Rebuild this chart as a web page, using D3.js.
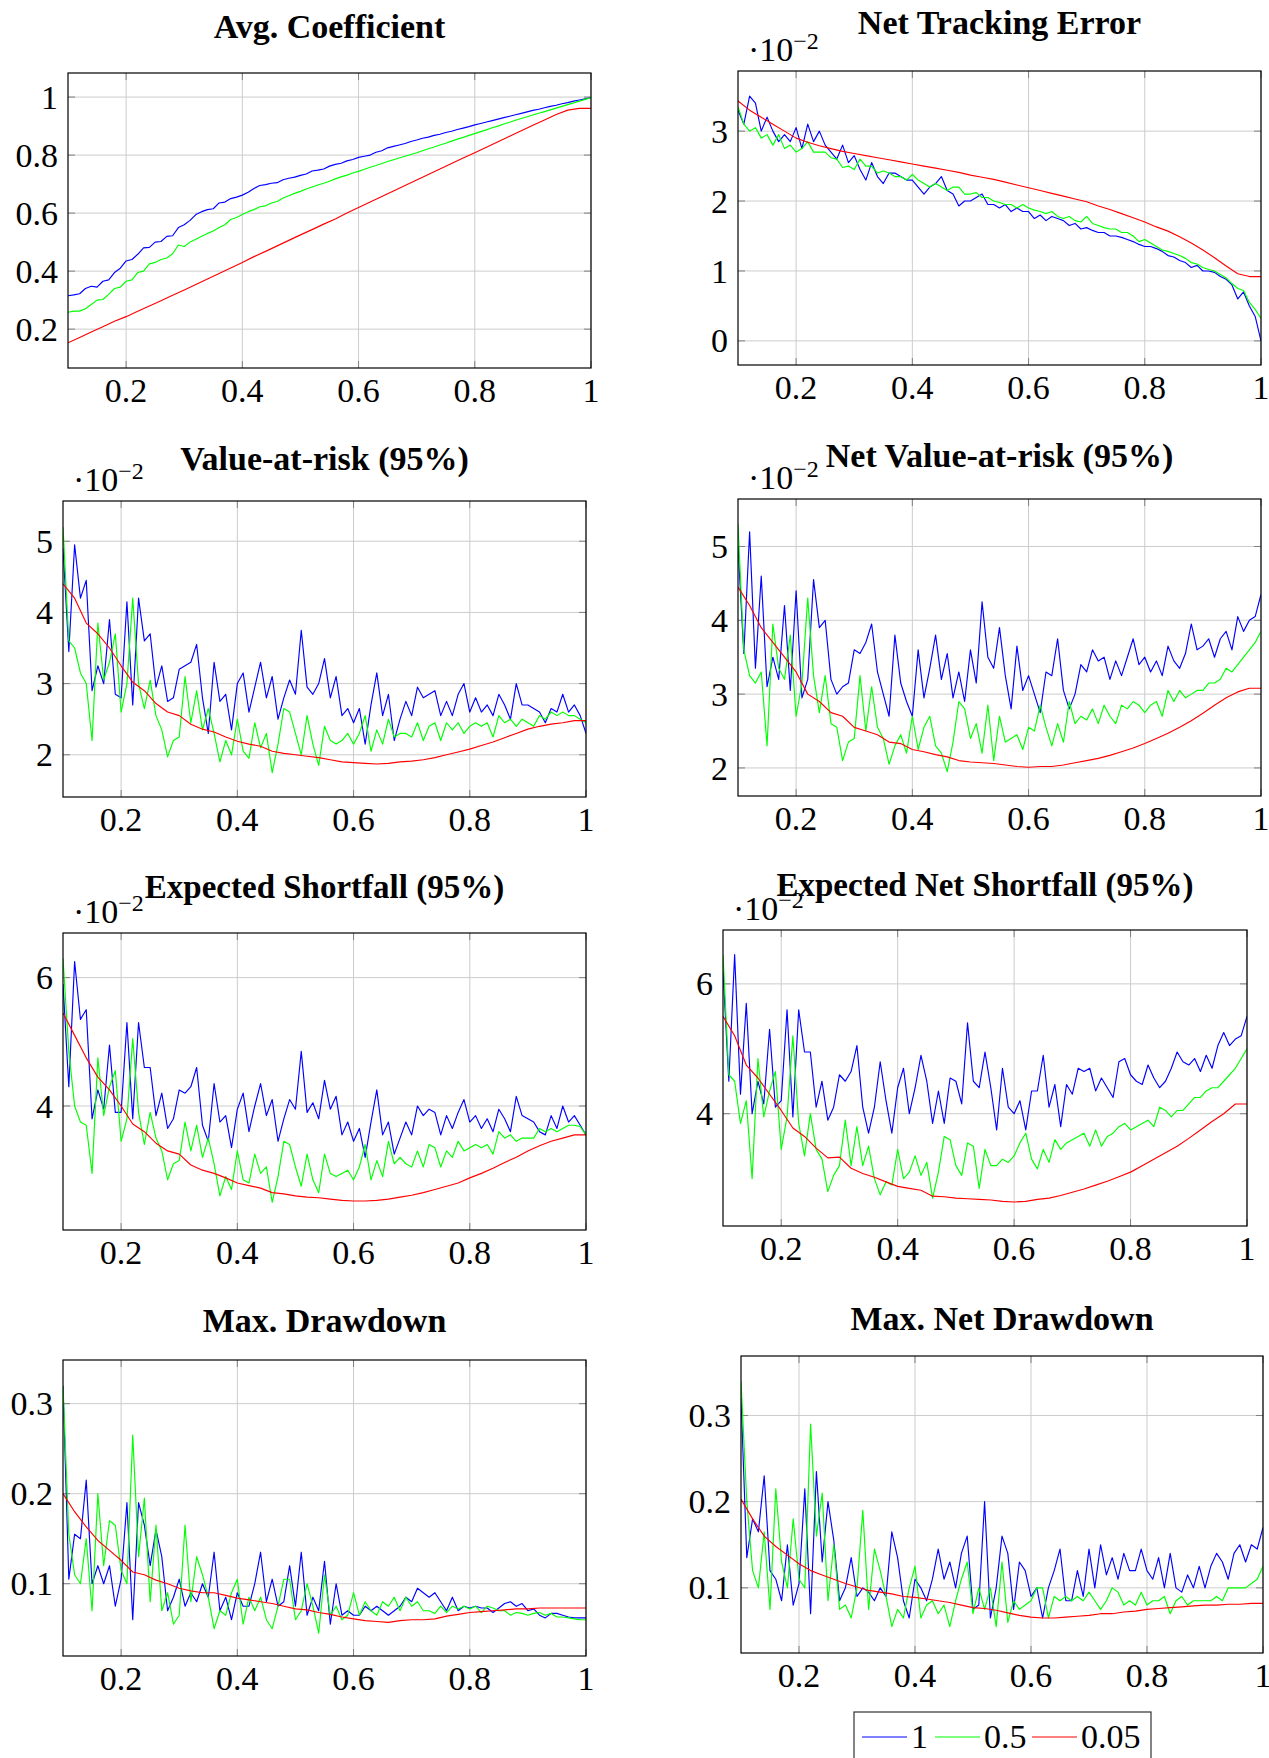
<!DOCTYPE html>
<html>
<head>
<meta charset="utf-8">
<script src="https://cdn.jsdelivr.net/npm/d3@7"></script>
<style>
  body { margin: 0; background: #fff; }
  .tick-label { font-family: "Liberation Serif", serif; font-size: 34px; fill: #000; }
  .title { font-family: "Liberation Serif", serif; font-weight: bold; fill: #000; }
</style>
</head>
<body>
<script>
// x sampling of the simulations (noisy series every 0.01, smooth ones every 0.02)
var xs = d3.range(10, 101).map(function(i) { return i / 100; });
var xsCoarse = d3.range(5, 51).map(function(i) { return i / 50; });

var xTicks = [0.2, 0.4, 0.6, 0.8, 1];
var legendLabels = ["1", "0.5", "0.05"];
var colors = ["#0000ff", "#00ff00", "#ff0000"];

// Avg. Coefficient
var avgCoefBlue = [0.315,0.318,0.322,0.34,0.348,0.345,0.365,0.37,0.395,0.41,
  0.435,0.44,0.458,0.48,0.482,0.5,0.502,0.52,0.522,0.55,
  0.56,0.575,0.595,0.605,0.612,0.615,0.635,0.638,0.65,0.655,
  0.662,0.672,0.685,0.695,0.698,0.703,0.705,0.715,0.72,0.724,
  0.73,0.735,0.745,0.748,0.752,0.762,0.768,0.772,0.78,0.785,
  0.792,0.796,0.8,0.81,0.815,0.825,0.83,0.835,0.84,0.847,
  0.852,0.858,0.862,0.868,0.872,0.878,0.882,0.888,0.893,0.898,
  0.904,0.909,0.914,0.919,0.924,0.929,0.934,0.939,0.944,0.949,
  0.954,0.958,0.963,0.968,0.972,0.977,0.981,0.986,0.99,0.994,
  0.998];
var avgCoefGreen = [0.258,0.262,0.262,0.27,0.285,0.3,0.302,0.32,0.34,0.345,
  0.365,0.37,0.395,0.4,0.425,0.43,0.44,0.445,0.46,0.49,
  0.485,0.5,0.51,0.52,0.53,0.538,0.55,0.56,0.578,0.585,
  0.595,0.605,0.612,0.622,0.625,0.635,0.64,0.652,0.66,0.668,
  0.675,0.683,0.69,0.697,0.703,0.71,0.718,0.725,0.731,0.738,
  0.744,0.751,0.758,0.764,0.771,0.778,0.784,0.79,0.796,0.802,
  0.808,0.815,0.822,0.828,0.835,0.841,0.848,0.855,0.861,0.868,
  0.874,0.881,0.887,0.894,0.9,0.907,0.913,0.92,0.926,0.932,
  0.938,0.944,0.95,0.956,0.962,0.968,0.974,0.98,0.986,0.992,
  0.998];
var avgCoefRed = [0.153,0.171,0.19,0.208,0.227,0.243,0.262,0.28,0.298,0.317,
  0.335,0.354,0.373,0.392,0.411,0.43,0.45,0.468,0.487,0.506,
  0.525,0.543,0.562,0.58,0.6,0.619,0.638,0.657,0.676,0.695,
  0.714,0.733,0.752,0.771,0.79,0.808,0.827,0.846,0.865,0.884,
  0.903,0.921,0.94,0.955,0.961,0.961];

// Net Tracking Error (x 10^-2)
var nteBlue = [3.3,3.1,3.5,3.4,3.0,3.2,3.0,2.85,2.95,2.85,
  3.05,2.75,3.1,2.85,3.0,2.8,2.7,2.6,2.8,2.55,
  2.65,2.45,2.3,2.55,2.35,2.25,2.4,2.4,2.35,2.3,
  2.3,2.2,2.1,2.2,2.25,2.35,2.15,2.1,1.93,2.0,
  2.0,2.05,2.1,1.95,1.95,1.9,1.95,1.85,1.9,1.85,
  1.85,1.75,1.8,1.72,1.78,1.75,1.72,1.65,1.68,1.6,
  1.62,1.58,1.55,1.55,1.5,1.5,1.48,1.45,1.42,1.38,
  1.35,1.35,1.32,1.28,1.22,1.2,1.15,1.12,1.05,1.08,
  1.0,1.0,0.98,0.92,0.88,0.8,0.6,0.7,0.5,0.35,
  0.0];
var nteGreen = [3.35,3.1,3.0,3.05,2.9,2.95,2.8,2.95,2.75,2.8,
  2.7,2.75,2.85,2.7,2.7,2.7,2.62,2.6,2.48,2.5,
  2.45,2.6,2.5,2.5,2.4,2.43,2.4,2.35,2.35,2.3,
  2.38,2.3,2.25,2.2,2.25,2.2,2.15,2.2,2.2,2.1,
  2.1,2.12,2.05,2.05,2.0,1.98,1.95,1.95,1.9,1.95,
  1.9,1.87,1.85,1.82,1.85,1.78,1.75,1.78,1.72,1.7,
  1.78,1.68,1.65,1.62,1.6,1.6,1.55,1.55,1.5,1.42,
  1.45,1.4,1.35,1.3,1.28,1.25,1.22,1.18,1.12,1.1,
  1.05,1.02,1.0,0.95,0.9,0.82,0.75,0.72,0.55,0.45,
  0.32];
var nteRed = [3.43,3.3,3.2,3.1,3.0,2.9,2.84,2.79,2.75,2.71,
  2.68,2.65,2.62,2.59,2.56,2.53,2.5,2.47,2.44,2.41,
  2.37,2.34,2.31,2.27,2.23,2.19,2.15,2.11,2.07,2.03,
  1.99,1.93,1.88,1.82,1.76,1.70,1.63,1.57,1.49,1.40,
  1.30,1.19,1.07,0.96,0.92,0.92];

// Value-at-risk (95%) (x 10^-2)
var varBlue = [4.9,3.45,4.95,4.2,4.45,2.9,3.25,3.0,3.9,2.85,
  2.8,4.15,2.7,4.2,3.6,3.7,2.95,3.25,2.75,2.8,
  3.2,3.25,3.3,3.55,2.8,2.3,3.3,2.75,2.85,2.35,
  3.0,3.15,2.6,2.95,3.3,2.8,3.1,2.5,2.8,3.05,
  2.85,3.75,2.95,2.85,3.0,3.35,2.8,3.1,2.55,2.65,
  2.45,2.65,2.15,2.7,3.15,2.55,2.85,2.2,2.5,2.75,
  2.55,2.95,2.8,2.85,2.9,2.55,2.75,2.55,2.85,3.0,
  2.6,2.8,2.6,2.7,2.55,2.85,2.7,2.5,3.0,2.7,
  2.7,2.65,2.6,2.45,2.65,2.6,2.85,2.6,2.7,2.55,
  2.3];
var varGreen = [5.2,3.6,3.5,3.15,3.0,2.2,3.85,3.05,3.3,3.7,
  2.6,3.0,4.2,3.0,2.65,3.05,2.55,2.35,1.97,2.2,
  2.25,3.1,2.45,2.9,2.35,2.65,2.3,1.9,2.2,2.0,
  2.5,2.05,1.95,2.45,2.1,2.3,1.75,2.15,2.65,2.6,
  2.3,2.0,2.55,2.15,1.85,2.4,2.2,2.15,2.2,2.3,
  2.15,2.3,2.55,2.05,2.35,2.15,2.5,2.25,2.3,2.3,
  2.25,2.45,2.2,2.4,2.45,2.2,2.45,2.35,2.45,2.3,
  2.4,2.45,2.4,2.45,2.25,2.55,2.45,2.5,2.4,2.5,
  2.45,2.4,2.55,2.5,2.6,2.55,2.6,2.55,2.55,2.5,
  2.45];
var varRed = [4.4,4.2,3.85,3.7,3.5,3.25,3.02,2.9,2.72,2.6,
  2.55,2.43,2.36,2.32,2.25,2.19,2.15,2.12,2.05,2.02,
  2.0,1.98,1.96,1.93,1.9,1.89,1.88,1.87,1.88,1.9,
  1.91,1.93,1.96,2.0,2.04,2.08,2.13,2.18,2.24,2.3,
  2.36,2.4,2.43,2.45,2.48,2.48];

// Net Value-at-risk (95%) (x 10^-2)
var nvarBlue = [5.0,3.55,5.2,3.35,4.6,3.1,3.5,3.2,4.2,3.05,
  4.4,2.95,3.2,4.55,3.9,4.0,3.2,3.0,3.1,3.15,
  3.6,3.55,3.7,3.95,3.3,3.0,2.7,3.8,3.15,2.9,
  2.7,3.6,2.95,3.35,3.8,3.2,3.55,2.95,3.3,2.9,
  3.6,3.15,4.25,3.5,3.35,3.9,3.25,2.8,3.65,3.05,
  3.25,3.0,2.75,3.3,3.25,3.75,3.05,2.8,3.0,3.4,
  3.3,3.6,3.45,3.5,3.2,3.45,3.25,3.5,3.75,3.4,
  3.5,3.3,3.45,3.25,3.65,3.45,3.35,3.55,3.95,3.6,
  3.65,3.75,3.5,3.75,3.85,3.6,4.05,3.85,4.0,4.05,
  4.35];
var nvarGreen = [5.3,3.6,3.25,3.15,3.3,2.3,3.95,3.35,3.2,3.8,
  2.7,3.15,4.3,3.25,2.75,3.25,2.6,2.55,2.1,2.35,
  2.4,3.25,2.5,3.1,2.55,2.4,2.05,2.3,2.45,2.2,
  2.7,2.25,2.55,2.7,2.3,2.2,1.95,2.35,2.9,2.8,
  2.4,2.6,2.2,2.85,2.1,2.7,2.35,2.4,2.45,2.25,
  2.55,2.5,2.85,2.55,2.3,2.6,2.35,2.9,2.6,2.7,
  2.65,2.8,2.6,2.85,2.7,2.6,2.85,2.8,2.9,2.85,
  2.75,2.85,2.9,2.7,3.05,2.9,3.05,2.95,3.0,3.05,
  3.05,3.15,3.15,3.2,3.35,3.3,3.4,3.5,3.6,3.7,
  3.85];
var nvarRed = [4.45,4.2,3.9,3.7,3.5,3.3,3.0,2.9,2.75,2.7,
  2.55,2.5,2.45,2.35,2.33,2.25,2.22,2.18,2.15,2.1,
  2.08,2.07,2.06,2.04,2.02,2.01,2.02,2.02,2.04,2.07,
  2.1,2.13,2.17,2.22,2.27,2.33,2.4,2.47,2.55,2.64,
  2.74,2.85,2.95,3.03,3.08,3.08];

// Expected Shortfall (95%) (x 10^-2)
var esBlue = [5.9,4.3,6.25,5.35,5.5,3.8,4.25,3.95,4.95,3.9,
  3.9,5.3,3.8,5.3,4.6,4.6,3.85,4.2,3.65,3.8,
  4.25,4.2,4.3,4.6,3.7,3.45,4.35,3.75,3.85,3.35,
  3.95,4.2,3.6,4.0,4.35,3.85,4.1,3.45,3.8,4.1,
  3.95,4.85,3.9,4.05,3.8,4.4,3.95,4.15,3.55,3.75,
  3.45,3.65,3.2,3.75,4.25,3.55,3.75,3.25,3.5,3.75,
  3.55,4.0,3.85,3.95,3.9,3.55,3.85,3.65,3.9,4.1,
  3.75,3.85,3.65,3.8,3.6,3.95,3.8,3.6,4.15,3.85,
  3.8,3.75,3.6,3.55,3.85,3.65,4.0,3.75,3.85,3.7,
  3.55];
var esGreen = [6.3,4.85,4.0,3.75,3.7,2.95,4.75,3.85,4.3,4.55,
  3.45,3.8,5.05,3.9,3.4,3.9,3.5,3.3,2.85,3.1,
  3.15,3.75,3.3,3.7,3.2,3.5,3.1,2.6,2.9,2.7,
  3.3,2.85,2.8,3.25,2.95,3.05,2.5,2.9,3.45,3.4,
  3.05,2.75,3.25,2.85,2.65,3.25,2.95,2.9,2.95,3.0,
  2.85,3.05,3.4,2.85,3.15,2.9,3.45,3.1,3.2,3.1,
  3.05,3.3,3.05,3.4,3.35,3.05,3.3,3.2,3.45,3.3,
  3.35,3.4,3.35,3.4,3.25,3.6,3.5,3.55,3.45,3.5,
  3.5,3.5,3.65,3.6,3.65,3.6,3.65,3.7,3.7,3.68,
  3.55];
var esRed = [5.45,5.1,4.75,4.45,4.25,4.0,3.72,3.6,3.42,3.3,
  3.25,3.08,3.0,2.95,2.88,2.8,2.76,2.72,2.65,2.63,
  2.6,2.58,2.57,2.55,2.53,2.52,2.52,2.53,2.55,2.58,
  2.61,2.65,2.7,2.75,2.8,2.88,2.95,3.03,3.12,3.2,
  3.3,3.38,3.45,3.5,3.55,3.55];

// Expected Net Shortfall (95%) (x 10^-2)
var ensBlue = [6.2,4.5,6.45,4.3,5.7,4.0,4.5,4.15,5.3,4.1,
  4.2,5.6,3.95,5.6,4.95,4.95,4.1,4.5,3.9,4.1,
  4.6,4.5,4.65,5.05,4.1,3.7,4.1,4.8,4.2,3.7,
  4.4,4.7,4.0,4.4,4.9,4.5,3.85,4.35,3.85,4.55,
  4.5,4.15,5.4,4.5,4.4,4.95,4.4,3.75,4.7,4.1,
  4.0,4.2,3.75,4.35,4.35,4.9,4.1,4.45,3.8,4.45,
  4.3,4.7,4.65,4.7,4.35,4.55,4.4,4.25,4.8,4.85,
  4.6,4.5,4.45,4.75,4.55,4.4,4.5,4.7,4.95,4.8,
  4.75,4.85,4.65,4.9,4.7,5.05,5.25,5.05,5.15,5.2,
  5.5];
var ensGreen = [6.45,4.6,4.5,3.85,4.2,3.0,4.85,3.95,4.35,4.65,
  3.45,3.95,5.2,3.85,3.35,4.0,3.45,3.3,2.8,3.05,
  3.2,3.9,3.2,3.8,3.2,3.5,3.0,2.75,2.95,2.9,
  3.45,3.0,3.1,3.35,3.05,3.25,2.7,3.1,3.65,3.6,
  3.2,3.05,3.55,3.5,2.85,3.45,3.2,3.2,3.3,3.25,
  3.35,3.55,3.7,3.3,3.15,3.45,3.25,3.6,3.45,3.55,
  3.6,3.65,3.7,3.5,3.75,3.5,3.65,3.7,3.8,3.85,
  3.75,3.8,3.85,3.9,3.8,4.1,4.05,3.95,4.05,4.05,
  4.15,4.25,4.25,4.35,4.4,4.4,4.5,4.6,4.7,4.85,
  5.0];
var ensRed = [5.5,5.2,4.75,4.55,4.3,4.05,3.78,3.65,3.47,3.32,
  3.33,3.16,3.08,3.02,2.95,2.88,2.85,2.82,2.73,2.72,
  2.7,2.69,2.68,2.67,2.65,2.64,2.65,2.68,2.7,2.74,
  2.79,2.84,2.9,2.96,3.03,3.1,3.2,3.3,3.4,3.5,
  3.62,3.75,3.88,4.0,4.15,4.15];

// Max. Drawdown
var mddBlue = [0.32,0.105,0.155,0.15,0.215,0.1,0.12,0.1,0.12,0.075,
  0.105,0.19,0.06,0.19,0.165,0.12,0.16,0.13,0.07,0.085,
  0.105,0.075,0.09,0.08,0.1,0.085,0.135,0.07,0.085,0.06,
  0.09,0.075,0.075,0.1,0.135,0.08,0.105,0.075,0.08,0.12,
  0.075,0.135,0.065,0.085,0.07,0.125,0.055,0.1,0.065,0.07,
  0.065,0.065,0.075,0.07,0.075,0.07,0.065,0.07,0.075,0.085,
  0.08,0.095,0.09,0.085,0.09,0.08,0.07,0.085,0.07,0.075,
  0.073,0.075,0.073,0.073,0.068,0.073,0.078,0.08,0.075,0.078,
  0.07,0.072,0.065,0.062,0.067,0.067,0.065,0.063,0.062,0.062,
  0.062];
var mddGreen = [0.32,0.155,0.11,0.1,0.15,0.07,0.2,0.12,0.17,0.165,
  0.115,0.1,0.265,0.13,0.195,0.08,0.165,0.07,0.09,0.055,
  0.065,0.165,0.08,0.13,0.11,0.085,0.05,0.07,0.065,0.09,
  0.105,0.055,0.085,0.07,0.085,0.06,0.05,0.075,0.105,0.105,
  0.06,0.07,0.1,0.075,0.045,0.11,0.065,0.075,0.06,0.065,
  0.09,0.065,0.08,0.07,0.065,0.08,0.075,0.085,0.07,0.085,
  0.075,0.08,0.07,0.07,0.067,0.075,0.068,0.075,0.072,0.075,
  0.072,0.075,0.068,0.075,0.073,0.07,0.07,0.065,0.068,0.067,
  0.065,0.067,0.068,0.065,0.067,0.063,0.063,0.062,0.061,0.06,
  0.06];
var mddRed = [0.2,0.18,0.163,0.148,0.137,0.126,0.113,0.11,0.104,0.1,
  0.095,0.092,0.09,0.09,0.087,0.084,0.082,0.08,0.078,0.075,
  0.072,0.071,0.068,0.066,0.063,0.061,0.059,0.058,0.057,0.059,
  0.06,0.06,0.061,0.064,0.066,0.068,0.069,0.07,0.071,0.072,
  0.072,0.073,0.073,0.073,0.073,0.073];

// Max. Net Drawdown
var mnddBlue = [0.32,0.135,0.18,0.165,0.23,0.12,0.11,0.085,0.15,0.08,
  0.105,0.215,0.07,0.235,0.13,0.2,0.155,0.085,0.1,0.135,
  0.09,0.1,0.095,0.085,0.1,0.09,0.165,0.135,0.085,0.065,
  0.11,0.1,0.085,0.11,0.145,0.11,0.13,0.1,0.14,0.16,
  0.075,0.08,0.2,0.065,0.1,0.16,0.14,0.075,0.13,0.12,
  0.09,0.1,0.065,0.1,0.12,0.145,0.085,0.085,0.12,0.09,
  0.145,0.1,0.15,0.115,0.135,0.11,0.14,0.12,0.12,0.145,
  0.12,0.11,0.135,0.1,0.14,0.1,0.095,0.115,0.1,0.125,
  0.1,0.125,0.14,0.13,0.11,0.14,0.15,0.13,0.15,0.145,
  0.17];
var mnddGreen = [0.34,0.2,0.12,0.1,0.165,0.075,0.215,0.13,0.1,0.18,
  0.11,0.1,0.29,0.16,0.21,0.085,0.15,0.075,0.08,0.065,
  0.1,0.19,0.075,0.145,0.12,0.09,0.055,0.075,0.065,0.1,
  0.125,0.065,0.08,0.085,0.07,0.08,0.055,0.085,0.11,0.13,
  0.07,0.1,0.075,0.1,0.055,0.13,0.06,0.085,0.075,0.08,
  0.085,0.1,0.1,0.065,0.09,0.085,0.09,0.085,0.09,0.085,
  0.095,0.085,0.075,0.085,0.1,0.095,0.08,0.085,0.08,0.095,
  0.08,0.085,0.085,0.09,0.07,0.085,0.09,0.08,0.085,0.085,
  0.085,0.085,0.09,0.085,0.1,0.1,0.1,0.1,0.105,0.11,
  0.125];
var mnddRed = [0.203,0.18,0.16,0.148,0.138,0.128,0.12,0.115,0.11,0.105,
  0.101,0.097,0.095,0.093,0.09,0.089,0.087,0.085,0.083,0.08,
  0.077,0.076,0.074,0.071,0.068,0.066,0.065,0.065,0.066,0.067,
  0.068,0.07,0.07,0.072,0.073,0.075,0.076,0.077,0.078,0.079,
  0.08,0.08,0.081,0.081,0.082,0.082];

// layout of the 4x2 grid of plots
var panels = [
  { title: "Avg. Coefficient", box: [68, 73, 591, 368], titleY: 38, titleSize: 34, scaled: false,
    yDomain: [0.066, 1.083], yTicks: [0.2, 0.4, 0.6, 0.8, 1],
    series: [[xs, avgCoefBlue], [xs, avgCoefGreen], [xsCoarse, avgCoefRed]] },
  { title: "Net Tracking Error", box: [738, 71, 1261, 365], titleY: 34, titleSize: 34, scaled: true,
    yDomain: [-0.345, 3.86], yTicks: [0, 1, 2, 3],
    series: [[xs, nteBlue], [xs, nteGreen], [xsCoarse, nteRed]] },
  { title: "Value-at-risk (95%)", box: [63, 501, 586, 797], titleY: 470, titleSize: 34, scaled: true,
    yDomain: [1.407, 5.565], yTicks: [2, 3, 4, 5],
    series: [[xs, varBlue], [xs, varGreen], [xsCoarse, varRed]] },
  { title: "Net Value-at-risk (95%)", box: [738, 499, 1261, 796], titleY: 467, titleSize: 34, scaled: true,
    yDomain: [1.62, 5.643], yTicks: [2, 3, 4, 5],
    series: [[xs, nvarBlue], [xs, nvarGreen], [xsCoarse, nvarRed]] },
  { title: "Expected Shortfall (95%)", box: [63, 933, 586, 1230], titleY: 898, titleSize: 33, scaled: true,
    yDomain: [2.068, 6.695], yTicks: [4, 6],
    series: [[xs, esBlue], [xs, esGreen], [xsCoarse, esRed]] },
  { title: "Expected Net Shortfall (95%)", box: [723, 930, 1247, 1226], titleY: 896, titleSize: 33, scaled: true,
    yDomain: [2.27, 6.83], yTicks: [4, 6],
    series: [[xs, ensBlue], [xs, ensGreen], [xsCoarse, ensRed]] },
  { title: "Max. Drawdown", box: [63, 1360, 586, 1656], titleY: 1332, titleSize: 34, scaled: false,
    yDomain: [0.0197, 0.3485], yTicks: [0.1, 0.2, 0.3],
    series: [[xs, mddBlue], [xs, mddGreen], [xsCoarse, mddRed]] },
  { title: "Max. Net Drawdown", box: [741, 1356, 1263, 1653], titleY: 1330, titleSize: 34, scaled: false,
    yDomain: [0.0244, 0.369], yTicks: [0.1, 0.2, 0.3],
    series: [[xs, mnddBlue], [xs, mnddGreen], [xsCoarse, mnddRed]] }
];

var svg = d3.select("body").append("svg")
    .attr("width", 1269)
    .attr("height", 1758);

var tickLen = 7;

panels.forEach(function(p, pi) {
  var x0 = p.box[0], y0 = p.box[1], x1 = p.box[2], y1 = p.box[3];

  var x = d3.scaleLinear().domain([0.1, 1]).range([x0, x1]);
  var y = d3.scaleLinear().domain(p.yDomain).range([y1, y0]);

  var g = svg.append("g");

  g.append("clipPath").attr("id", "clip" + pi)
    .append("rect").attr("x", x0).attr("y", y0)
    .attr("width", x1 - x0).attr("height", y1 - y0);

  // grid
  g.selectAll(".vgrid").data(xTicks).enter().append("line")
    .attr("x1", function(d) { return x(d); }).attr("x2", function(d) { return x(d); })
    .attr("y1", y0).attr("y2", y1)
    .style("stroke", "#cccccc").style("stroke-width", 1);
  g.selectAll(".hgrid").data(p.yTicks).enter().append("line")
    .attr("x1", x0).attr("x2", x1)
    .attr("y1", function(d) { return y(d); }).attr("y2", function(d) { return y(d); })
    .style("stroke", "#cccccc").style("stroke-width", 1);

  // tick marks inside the box, all four sides
  xTicks.forEach(function(t) {
    [[y1, y1 - tickLen], [y0, y0 + tickLen]].forEach(function(s) {
      g.append("line").attr("x1", x(t)).attr("x2", x(t)).attr("y1", s[0]).attr("y2", s[1])
        .style("stroke", "#808080").style("stroke-width", 1);
    });
  });
  p.yTicks.forEach(function(t) {
    [[x0, x0 + tickLen], [x1, x1 - tickLen]].forEach(function(s) {
      g.append("line").attr("x1", s[0]).attr("x2", s[1]).attr("y1", y(t)).attr("y2", y(t))
        .style("stroke", "#808080").style("stroke-width", 1);
    });
  });

  // lines
  var line = d3.line()
    .x(function(d) { return x(d[0]); })
    .y(function(d) { return y(d[1]); });

  p.series.forEach(function(s, si) {
    var pts = d3.zip(s[0], s[1]);
    g.append("path")
      .datum(pts)
      .attr("d", line)
      .attr("clip-path", "url(#clip" + pi + ")")
      .style("fill", "none")
      .style("stroke", colors[si])
      .style("stroke-width", 1.15)
      .style("stroke-linejoin", "round");
  });

  // box
  g.append("rect").attr("x", x0).attr("y", y0)
    .attr("width", x1 - x0).attr("height", y1 - y0)
    .style("fill", "none").style("stroke", "#000").style("stroke-width", 1.2);

  // tick labels
  g.selectAll(".xl").data(xTicks).enter().append("text")
    .attr("class", "tick-label")
    .attr("x", function(d) { return x(d); })
    .attr("y", y1 + 34)
    .attr("text-anchor", "middle")
    .text(function(d) { return String(d); });
  g.selectAll(".yl").data(p.yTicks).enter().append("text")
    .attr("class", "tick-label")
    .attr("x", x0 - 10)
    .attr("y", function(d) { return y(d); })
    .attr("dy", "0.34em")
    .attr("text-anchor", "end")
    .text(function(d) { return String(d); });

  // ·10^-2 scale label
  if (p.scaled) {
    var t = g.append("text").attr("class", "tick-label")
      .attr("x", x0 + 10).attr("y", y0 - 10);
    t.append("tspan").text("\u00b710");
    t.append("tspan").attr("dy", -12).style("font-size", "24px").text("\u22122");
  }

  // title
  g.append("text").attr("class", "title")
    .attr("x", (x0 + x1) / 2)
    .attr("y", p.titleY)
    .attr("text-anchor", "middle")
    .style("font-size", p.titleSize + "px")
    .text(p.title);
});

// legend
var lg = svg.append("g");
lg.append("rect").attr("x", 854).attr("y", 1712).attr("width", 297).attr("height", 60)
  .style("fill", "#fff").style("stroke", "#333").style("stroke-width", 1.2);
var legendX = [862, 935, 1032];
legendLabels.forEach(function(lab, i) {
  lg.append("line").attr("x1", legendX[i]).attr("x2", legendX[i] + 45)
    .attr("y1", 1737).attr("y2", 1737)
    .style("stroke", colors[i]).style("stroke-width", 1.15);
  lg.append("text").attr("class", "tick-label")
    .attr("x", legendX[i] + 49).attr("y", 1748)
    .text(lab);
});
</script>
</body>
</html>
